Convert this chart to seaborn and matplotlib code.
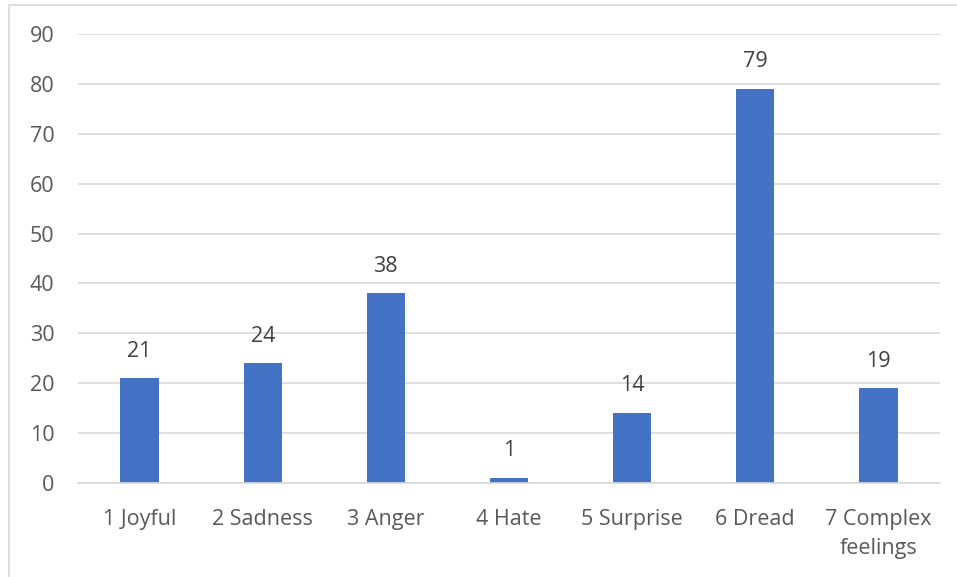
import matplotlib
matplotlib.use("Agg")
import matplotlib.pyplot as plt
import seaborn as sns
import pandas as pd
from matplotlib.patches import Rectangle

categories = ["1 Joyful", "2 Sadness", "3 Anger", "4 Hate", "5 Surprise", "6 Dread", "7 Complex\nfeelings"]
values = [21, 24, 38, 1, 14, 79, 19]
yticks = [0, 10, 20, 30, 40, 50, 60, 70, 80, 90]

sns.set_theme(style="white")
plt.rcParams['font.family'] = ['Open Sans', 'DejaVu Sans']

df = pd.DataFrame({"cat": categories, "val": values})

fig = plt.figure(figsize=(9.57, 5.77), dpi=100)
ax = fig.add_axes([78/957, 1-483/577, (940-78)/957, (483-34)/577])

sns.barplot(data=df, x="cat", y="val", color="#4472C4", width=0.31, ax=ax,
            saturation=1, linewidth=0)

ax.set_ylim(0, 90)
ax.set_yticks(yticks)
ax.set_xlim(-0.5, len(categories)-0.5)
ax.yaxis.grid(True, color="#D9D9D9", linewidth=1.2)
ax.set_axisbelow(True)
for s in ["top", "right", "left"]:
    ax.spines[s].set_visible(False)
ax.spines["bottom"].set_color("#D9D9D9")
ax.spines["bottom"].set_linewidth(1.2)
ax.set_xlabel("")
ax.set_ylabel("")
ax.tick_params(axis="both", length=0, labelsize=15.5, colors="#595959")
ax.tick_params(axis="y", pad=17)
ax.tick_params(axis="x", pad=19)
for lab in ax.get_xticklabels():
    lab.set_linespacing(1.5)

for i, v in enumerate(values):
    ax.annotate(str(v), (i, v), xytext=(0, 12), textcoords="offset points",
                ha="center", va="bottom", fontsize=15.5, color="#404040")

fig.patches.append(Rectangle((9/957, -0.1), 1.2, 1 - 5/577 + 0.1, transform=fig.transFigure,
                             fill=False, edgecolor="#D9D9D9", linewidth=1.2))

fig.savefig("out.png", dpi=100)
